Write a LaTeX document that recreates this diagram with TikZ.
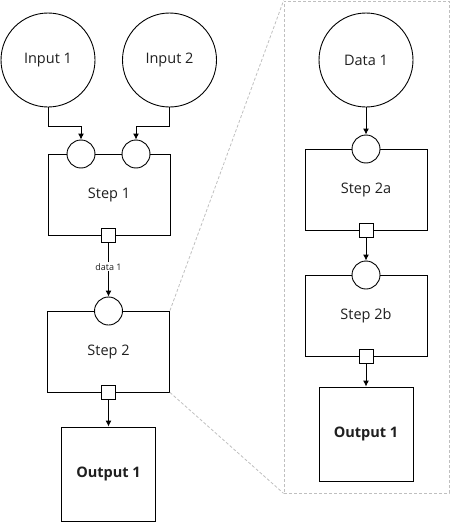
\documentclass[tikz,border=0pt]{standalone}
\usepackage{fontspec}
\setmainfont{Open Sans}
\usetikzlibrary{arrows.meta}
\definecolor{txt}{HTML}{1F1F1F}
\definecolor{zoomgray}{HTML}{BFBFBF}
\tikzset{
  every node/.style={font=\fontsize{14.5}{16}\selectfont, text=txt},
  bigcirc/.style={draw, circle, minimum size=94pt, inner sep=0pt, line width=0.9pt},
  stepbox/.style={draw, rectangle, minimum width=122pt, minimum height=81pt, inner sep=0pt, line width=0.9pt},
  outbox/.style={draw, rectangle, minimum width=94pt, minimum height=94pt, inner sep=0pt, line width=0.9pt, font=\fontsize{14.5}{16}\selectfont\bfseries},
  inport/.style={draw, circle, fill=white, minimum size=28pt, inner sep=0pt, line width=0.9pt},
  outport/.style={draw, rectangle, fill=white, minimum size=14pt, inner sep=0pt, line width=0.9pt},
  arr/.style={draw, line width=0.9pt, -{Latex[length=6pt,width=6pt]}},
  zoomline/.style={draw=zoomgray, line width=0.8pt, dash pattern=on 3pt off 2pt},
}
\begin{document}
\begin{tikzpicture}[x=1pt,y=-1pt]
\useasboundingbox (0,0) rectangle (450,522);
% left side
\node[bigcirc] (in1) at (48,60) {Input 1};
\node[bigcirc] (in2) at (169.5,60) {Input 2};
\node[stepbox] (step1) at (109,194.5) {Step 1};
\node[inport] (p1a) at (81,154) {};
\node[inport] (p1b) at (136,154) {};
\node[outport] (o1) at (108.5,235) {};
\node[stepbox] (step2) at (108.5,351.5) {Step 2};
\node[inport] (p2) at (108.5,311) {};
\node[outport] (o2) at (108.5,392) {};
\node[outbox] (out1) at (108.5,474) {Output 1};
% zoom frame
\node[zoomline, rectangle, minimum width=165pt, minimum height=492pt, inner sep=0pt] (zoom) at (366.5,247) {};
\draw[zoomline] (step2.north east) -- (zoom.north west);
\draw[zoomline] (step2.south east) -- (zoom.south west);
% right side
\node[bigcirc] (data1) at (366,60) {Data 1};
\node[stepbox] (step2a) at (366,189.5) {Step 2a};
\node[inport] (p2a) at (366,149) {};
\node[outport] (o2a) at (366,230) {};
\node[stepbox] (step2b) at (366,315.5) {Step 2b};
\node[inport] (p2b) at (366,275) {};
\node[outport] (o2b) at (366,356) {};
\node[outbox] (out2) at (366,434) {Output 1};
% connectors
\draw[arr] (in1.south) -- ++(0,19) -| (p1a.north);
\draw[arr] (in2.south) -- ++(0,19) -| (p1b.north);
\draw[arr] (o1.south) -- node[fill=white, inner sep=1pt, font=\fontsize{9}{10}\selectfont, pos=0.45] (lbl) {data 1} (p2.north);
\draw[arr] (o2.south) -- (out1.north);
\draw[arr] (data1.south) -- (p2a.north);
\draw[arr] (o2a.south) -- (p2b.north);
\draw[arr] (o2b.south) -- (out2.north);
\end{tikzpicture}
\end{document}
